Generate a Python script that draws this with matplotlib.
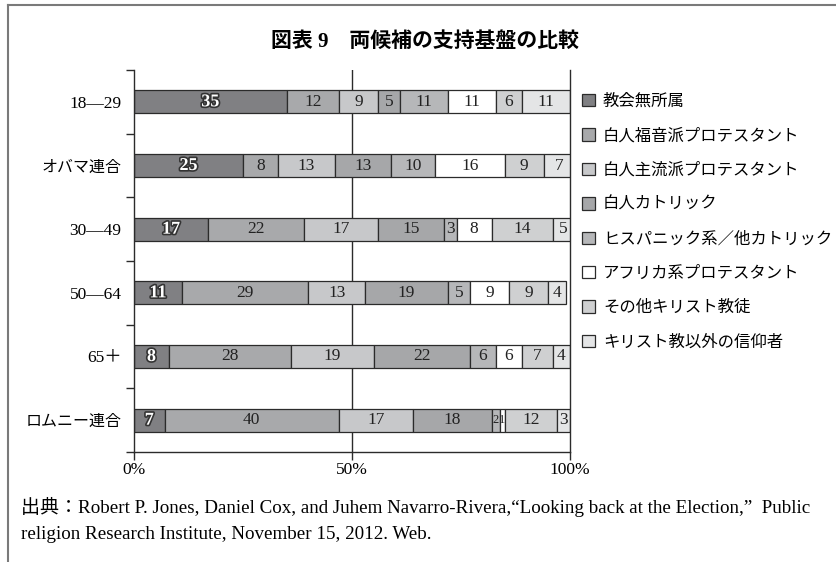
import matplotlib
matplotlib.use("Agg")
import matplotlib.pyplot as plt
import matplotlib.patheffects as pe
from matplotlib.patches import Patch
from matplotlib.lines import Line2D
import numpy as np

plt.rcParams['font.family'] = ['Liberation Serif', 'Noto Sans CJK JP']

categories = ['18—29', 'オバマ連合', '30—49', '50—64', '65＋', 'ロムニー連合']
groups = ['教会無所属', '白人福音派プロテスタント', '白人主流派プロテスタント', '白人カトリック',
          'ヒスパニック系／他カトリック', 'アフリカ系プロテスタント', 'その他キリスト教徒',
          'キリスト教以外の信仰者']
values = [
    [35, 25, 17, 11, 8, 7],     # 教会無所属
    [12, 8, 22, 29, 28, 40],    # 白人福音派プロテスタント
    [9, 13, 17, 13, 19, 17],    # 白人主流派プロテスタント
    [5, 13, 15, 19, 22, 18],    # 白人カトリック
    [11, 10, 3, 5, 6, 2],       # ヒスパニック系／他カトリック
    [11, 16, 8, 9, 6, 1],       # アフリカ系プロテスタント
    [6, 9, 14, 9, 7, 12],       # その他キリスト教徒
    [11, 7, 5, 4, 4, 3],        # キリスト教以外の信仰者
]
colors = ['#808083', '#a8a9ab', '#c7c8ca', '#a6a7a9', '#b6b7b9', '#ffffff', '#cfd0d1', '#e4e5e6']
xticks = [0, 50, 100]
xticklabels = ['0%', '50%', '100%']
title = '図表 9　両候補の支持基盤の比較'
source = ('出典：Robert P. Jones, Daniel Cox, and Juhem Navarro-Rivera,“Looking back at the Election,”  Public\n'
          'religion Research Institute, November 15, 2012. Web.')

W, H = 836, 562
fig = plt.figure(figsize=(W / 100, H / 100), dpi=100)
ax = fig.add_axes([134 / W, 1 - 452 / H, 436 / W, 382 / H])

ink = '#2b2b2b'
y = np.arange(len(categories))
left = np.zeros(len(categories))
for gi, (name, vals, col) in enumerate(zip(groups, values, colors)):
    vals = np.array(vals, dtype=float)
    ax.barh(y, vals, left=left, height=0.36, color=col, edgecolor=ink,
            linewidth=0.9, label=name)
    for yi, v, l in zip(y, vals, left):
        if gi == 0:
            ax.text(l + v / 2, yi, f'{int(v)}', ha='center', va='center', fontsize=13,
                    fontweight='bold', color='white',
                    path_effects=[pe.withStroke(linewidth=2.4, foreground='#333333')])
        else:
            # very narrow segments get a smaller label
            fs = 9 if v <= 2 else 12.5
            ax.text(l + v / 2, yi, f'{int(v)}', ha='center', va='center', fontsize=fs,
                    color='#222222')
    left += vals

ax.set_xlim(0, 100)
ax.set_ylim(len(categories) - 0.5, -0.5)
ax.spines['top'].set_visible(False)
for s in ['left', 'bottom', 'right']:
    ax.spines[s].set_color(ink)
    ax.spines[s].set_linewidth(1.0)
ax.axvline(50, color=ink, lw=1.0, zorder=0)

ax.set_yticks(y)
ax.set_yticklabels(categories)
for lab in ax.get_yticklabels():
    txt = lab.get_text()
    lab.set_fontsize(12.5 if txt[0].isdigit() else 11.5)
ax.set_yticks(np.arange(-0.5, len(categories), 1.0), minor=True)
ax.tick_params(axis='y', which='major', length=0, pad=9)
ax.tick_params(axis='y', which='minor', length=5.5, width=1.0, color=ink, direction='out')
ax.set_xticks(xticks)
ax.set_xticklabels(xticklabels, fontsize=12.5)
ax.tick_params(axis='x', length=5.5, width=1.0, color=ink, direction='out', pad=2)
ax.tick_params(axis='x', which='minor', length=0)

handles = [Patch(facecolor=c, edgecolor=ink, linewidth=0.9) for c in colors]
fig.legend(handles, groups, loc='upper left', bbox_to_anchor=(582 / W, 1 - 94 / H),
           frameon=False, fontsize=11.8, handlelength=0.78, handleheight=0.78,
           handletextpad=0.5, labelspacing=1.12, borderpad=0, borderaxespad=0)

fig.text(425 / W, 1 - 42 / H, title, ha='center', va='center', fontsize=15,
         fontweight='bold', family=['Liberation Serif', 'Noto Sans CJK JP'])
fig.text(21 / W, 1 - 520 / H, source, ha='left', va='center', fontsize=13.7,
         linespacing=1.65)

# page frame
fig.add_artist(Line2D([8 / W, 1], [1 - 5 / H, 1 - 5 / H], color='#7a7a7a', lw=1.5))
fig.add_artist(Line2D([8 / W, 8 / W], [0, 1 - 5 / H], color='#7a7a7a', lw=1.5))

fig.savefig('out.png', dpi=100)
